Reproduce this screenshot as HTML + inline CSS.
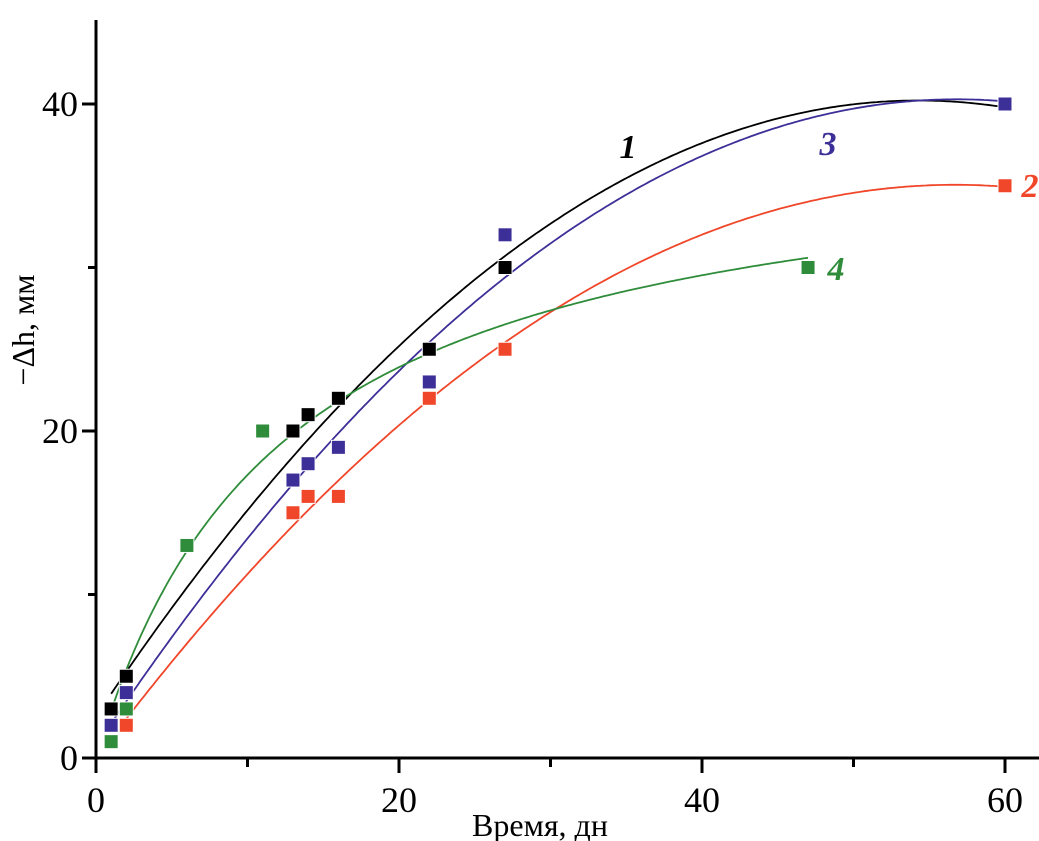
<!DOCTYPE html>
<html><head><meta charset="utf-8"><style>
html,body{margin:0;padding:0;background:#fff}
svg{display:block}
text{font-family:"Liberation Serif",serif}
</style></head><body>
<svg id="chart" width="1039" height="841" viewBox="0 0 1039 841" xmlns="http://www.w3.org/2000/svg">
<g id="axes"></g>
<g id="plot"></g>
</svg>
<script>
const xTicks=[0,20,40,60];
const xMinor=[10,30,50];
const yTicks=[0,20,40];
const yMinor=[10,30];
const s1x=[1,2,13,14,16,22,27,60];
const s1y=[3,5,20,21,22,25,30,40];
const s3x=[1,2,13,14,16,22,27,60];
const s3y=[2,4,17,18,19,23,32,40];
const s2x=[2,13,14,16,22,27,60];
const s2y=[2,15,16,16,22,25,35];
const s4x=[1,2,6,11,47];
const s4y=[1,3,13,20,30];

const NS="http://www.w3.org/2000/svg";
const X=v=>96+v*(1005-96)/60;
const Y=v=>758-v*(758-104)/40;
function mk(tag,attrs,parent){const e=document.createElementNS(NS,tag);for(const k in attrs)e.setAttribute(k,attrs[k]);parent.appendChild(e);return e;}
const axes=document.getElementById('axes'),plot=document.getElementById('plot');

let l=mk('line',{x1:96,y1:20,x2:96,y2:760,stroke:'#000','stroke-width':3},axes);


l=mk('line',{x1:82,y1:758,x2:1039,y2:758,stroke:'#000','stroke-width':3},axes);


xTicks.forEach(v=>{
 let t=mk('line',{x1:X(v),y1:758,x2:X(v),y2:773,stroke:'#000','stroke-width':3},axes);
 
 
 let tx=mk('text',{x:X(v),y:812,'text-anchor':'middle','font-size':36},axes);tx.textContent=v;
 
 
});
xMinor.forEach(v=>{
 let t=mk('line',{x1:X(v),y1:758,x2:X(v),y2:767,stroke:'#000','stroke-width':3},axes);
 
 
});
yTicks.forEach(v=>{
 let t=mk('line',{x1:82,y1:Y(v),x2:96,y2:Y(v),stroke:'#000','stroke-width':3},axes);
 
 
 let tx=mk('text',{x:78,y:Y(v)+12,'text-anchor':'end','font-size':36},axes);tx.textContent=v;
 
 
});
yMinor.forEach(v=>{
 let t=mk('line',{x1:88,y1:Y(v),x2:96,y2:Y(v),stroke:'#000','stroke-width':3},axes);
 
 
});
let xt=mk('text',{x:540,y:836,'text-anchor':'middle','font-size':32},axes);xt.textContent='Время, дн';


let yt=mk('text',{x:0,y:0,'text-anchor':'middle','font-size':32,transform:'translate(34,330) rotate(-90)'},axes);yt.textContent='−Δh, мм';



function solve3(A,b){const M=A.map((r,i)=>[...r,b[i]]);for(let i=0;i<3;i++){let p=i;for(let k=i+1;k<3;k++)if(Math.abs(M[k][i])>Math.abs(M[p][i]))p=k;[M[i],M[p]]=[M[p],M[i]];for(let k=0;k<3;k++)if(k!==i){const f=M[k][i]/M[i][i];for(let j=i;j<4;j++)M[k][j]-=f*M[i][j];}}return M.map((r,i)=>r[3]/r[i]);}
function quadFit(xs,ys){const S=p=>xs.reduce((a,x)=>a+Math.pow(x,p),0);const T=p=>xs.reduce((a,x,i)=>a+Math.pow(x,p)*ys[i],0);return solve3([[S(0),S(1),S(2)],[S(1),S(2),S(3)],[S(2),S(3),S(4)]],[T(0),T(1),T(2)]);}
// hyperbolic saturation fit y = A*x/(B+x), least squares via search over B
function hypFit(xs,ys){let best=null;for(let B=0.5;B<60;B+=0.05){const g=xs.map(x=>x/(B+x));let num=0,den=0;g.forEach((v,i)=>{num+=v*ys[i];den+=v*v});const A=num/den;let e=0;g.forEach((v,i)=>{e+=(A*v-ys[i])**2});if(!best||e<best.e)best={A,B,e};}return x=>best.A*x/(best.B+x);}

const series=[
 {name:'series-1',xs:s1x,ys:s1y,c:'#000000',fit:'q'},
 {name:'series-2',xs:s2x,ys:s2y,c:'#f0462a',fit:'q'},
 {name:'series-3',xs:s3x,ys:s3y,c:'#3d2f98',fit:'q'},
 {name:'series-4',xs:s4x,ys:s4y,c:'#2f8c3a',fit:'h'}
];
series.forEach(s=>{
 const x0=Math.min(...s.xs),x1=Math.max(...s.xs);let f;
 if(s.fit==='q'){const c=quadFit(s.xs,s.ys);f=x=>c[0]+c[1]*x+c[2]*x*x;}
 else{f=hypFit(s.xs,s.ys);}
 let d='';for(let i=0;i<=300;i++){const x=x0+(x1-x0)*i/300;d+=(i?'L':'M')+X(x).toFixed(1)+' '+Y(f(x)).toFixed(1);}
 let p=mk('path',{d:d,fill:'none',stroke:s.c,'stroke-width':1.8},plot);
 
 
});
series.forEach(s=>{
 s.xs.forEach((x,i)=>{
  let r=mk('rect',{x:X(x)-7,y:Y(s.ys[i])-7,width:14,height:14,fill:s.c,stroke:'#fff','stroke-width':1},plot);
  
  
 });
});
const labels=[{t:'1',x:628,y:158,c:'#000'},{t:'2',x:1030,y:197,c:'#f0462a'},{t:'3',x:828,y:155,c:'#3d2f98'},{t:'4',x:836,y:280,c:'#2f8c3a'}];
labels.forEach(o=>{
 let t=mk('text',{x:o.x,y:o.y,'text-anchor':'middle','font-size':34,'font-weight':'bold','font-style':'italic',fill:o.c},plot);t.textContent=o.t;
 
 
});
</script>
</body></html>
